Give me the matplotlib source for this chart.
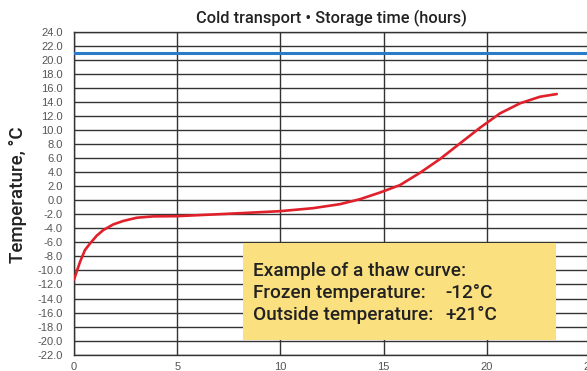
import matplotlib.pyplot as plt
from matplotlib.patches import Rectangle

plt.rcParams['font.family'] = ['Liberation Sans', 'DejaVu Sans']

hours = [0, 0.29, 0.53, 0.78, 1.1, 1.42, 1.9, 2.39, 3.03, 3.84, 4.98, 6.75,
         8.37, 9.98, 11.59, 12.89, 13.86, 14.83, 15.79, 16.76, 17.73, 18.7,
         19.67, 20.64, 21.61, 22.58, 23.39]
temps = [-11.3, -8.8, -7.1, -6.15, -5.05, -4.25, -3.45, -2.95, -2.5, -2.3,
         -2.27, -2.03, -1.8, -1.56, -1.13, -0.56, 0.15, 1.1, 2.15, 3.9, 5.86,
         8.09, 10.32, 12.37, 13.8, 14.74, 15.12]
outside_temp = 21

y_ticks = list(range(-22, 25, 2))
x_ticks = [0, 5, 10, 15, 20, 25]

box_lines = ["Example of a thaw curve:", "Frozen temperature:", "Outside temperature:"]
box_values = ["", "-12\u00b0C", "+21\u00b0C"]

medium = dict(family=['Roboto', 'DejaVu Sans'], fontweight='medium')

fig = plt.figure(figsize=(5.87, 3.71), dpi=100)
ax = fig.add_axes([74 / 587, 16.3 / 371, 516 / 587, 323 / 371])

ax.set_xlim(0, 25)
ax.set_ylim(-22, 24)
ax.set_yticks(y_ticks)
ax.set_yticklabels([f"{v:.1f}" for v in y_ticks])
ax.set_xticks(x_ticks)
ax.tick_params(axis='both', length=0, labelsize=8, labelcolor='#555555')
ax.tick_params(axis='y', pad=8)
ax.tick_params(axis='x', pad=5)
ax.grid(True, color='#333333', linewidth=1.0)
ax.set_axisbelow(True)
for s in ax.spines.values():
    s.set_color('#333333')
    s.set_linewidth(1.0)

ax.axhline(outside_temp, color='#2a7bc8', linewidth=2.2, zorder=3)
ax.plot(hours, temps, color='#e0202a', linewidth=1.9, zorder=3,
        solid_capstyle='round', solid_joinstyle='round')

# info box
ax.add_patch(Rectangle((8.19, -19.84), 15.16, 13.74, facecolor='#fbe07f',
                       edgecolor='none', zorder=4))
for i, (lab, val) in enumerate(zip(box_lines, box_values)):
    y = -10.8 - i * 3.14
    ax.text(8.67, y, lab, fontsize=13.7, color='#222222', va='baseline',
            zorder=5, **medium)
    if val:
        ax.text(17.97, y, val, fontsize=13.7, color='#222222', va='baseline',
                zorder=5, **medium)

fig.text(331 / 587, 353 / 371, "Cold transport \u2022 Storage time (hours)",
         ha='center', va='center', fontsize=11.8, color='#222222', **medium)
fig.text(18 / 587, 176 / 371, "Temperature, \u00b0C", rotation=90,
         ha='center', va='center', fontsize=13.5, color='#222222', **medium)

fig.savefig('out.png', dpi=100)
